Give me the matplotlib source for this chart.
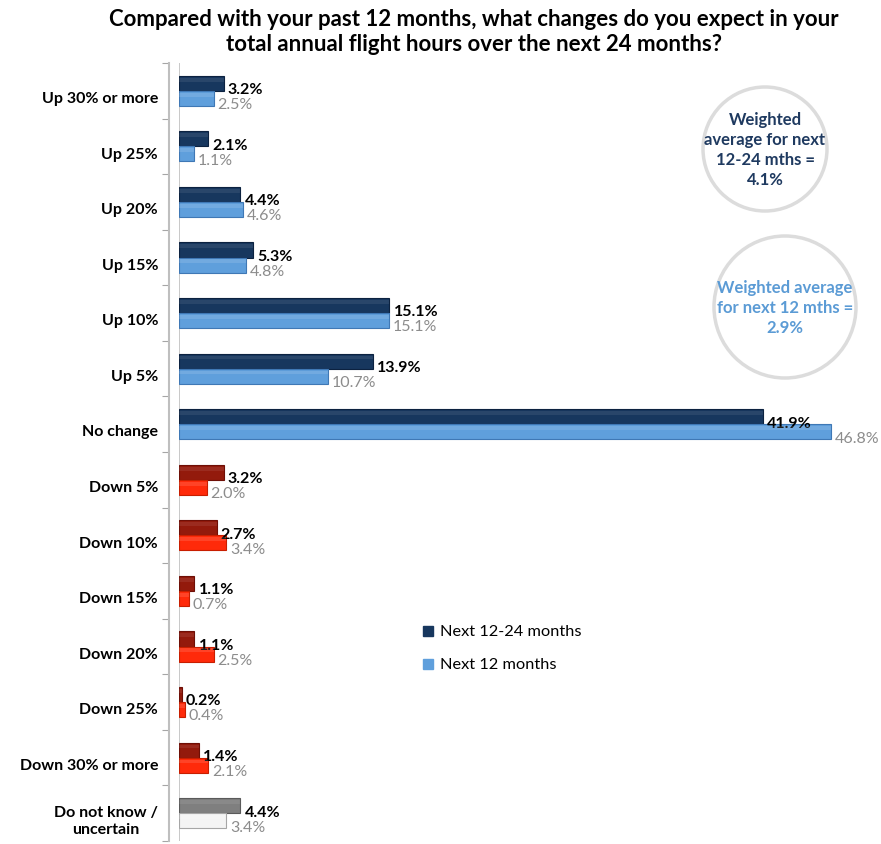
import matplotlib
matplotlib.use("Agg")
import matplotlib.pyplot as plt
from matplotlib.patches import Ellipse
import numpy as np

plt.rcParams['font.family'] = ['Lato', 'DejaVu Sans']

categories = ['Up 30% or more', 'Up 25%', 'Up 20%', 'Up 15%', 'Up 10%', 'Up 5%',
              'No change', 'Down 5%', 'Down 10%', 'Down 15%', 'Down 20%',
              'Down 25%', 'Down 30% or more', 'Do not know /\nuncertain']
next_12_24 = [3.2, 2.1, 4.4, 5.3, 15.1, 13.9, 41.9, 3.2, 2.7, 1.1, 1.1, 0.2, 1.4, 4.4]
next_12 = [2.5, 1.1, 4.6, 4.8, 15.1, 10.7, 46.8, 2.0, 3.4, 0.7, 2.5, 0.4, 2.1, 3.4]

# colours per group: up / no change use blues, down uses reds, unknown grey
dark_cols = ['#17375e'] * 7 + ['#931a0c'] * 6 + ['#7f7f7f']
light_cols = ['#5f9fdc'] * 7 + ['#ff2a0a'] * 6 + ['#f4f4f4']
light_edge = ['#3f78b5'] * 7 + ['#c81e00'] * 6 + ['#a6a6a6']
dark_edge = ['#0c2240'] * 7 + ['#6e0f06'] * 6 + ['#5a5a5a']

fig = plt.figure(figsize=(8.81, 8.45), dpi=100)
ax = fig.add_axes([179 / 881, 1 - 842 / 845, 1 - 179 / 881, (842 - 64) / 845])

y = np.arange(len(categories))
h = 0.27
ax.axvline(0, color='#bfbfbf', linewidth=1.2, zorder=1)
ax.barh(y - 0.135, next_12_24, height=h, color=dark_cols, edgecolor=dark_edge, linewidth=0.8, zorder=3)
ax.barh(y + 0.135, next_12, height=h, color=light_cols, edgecolor=light_edge, linewidth=0.8, zorder=3)
# soft highlight for the cylinder look
ax.barh(y - 0.2, next_12_24, height=0.07, color='white', alpha=0.08, linewidth=0, zorder=4)
ax.barh(y + 0.07, next_12, height=0.07, color='white', alpha=0.12, linewidth=0, zorder=4)

for i in range(len(categories)):
    ax.text(next_12_24[i] + 0.3, i - 0.03, f'{next_12_24[i]:.1f}%', fontsize=11.5,
            fontweight='bold', color='black', va='center', ha='left')
    ax.text(next_12[i] + 0.25, i + 0.24, f'{next_12[i]:.1f}%', fontsize=11.5,
            color='#8c8c8c', va='center', ha='left')
    # category names, drawn as text so the bold weight sticks
    ax.text(-21 / 702, i + 0.13, categories[i], transform=ax.get_yaxis_transform(),
            ha='right', va='center', fontsize=11.5, fontweight='bold',
            multialignment='center', linespacing=1.2)

ax.set_xlim(0, 50.4)
ax.set_ylim(len(categories) - 0.5, -0.5)
ax.set_yticks(np.arange(len(categories) + 1) - 0.5)
ax.set_yticklabels([])
ax.tick_params(axis='y', length=5, color='#a6a6a6', direction='out')
ax.set_xticks([])
for s in ['top', 'right', 'bottom']:
    ax.spines[s].set_visible(False)
ax.spines['left'].set_color('#bfbfbf')
ax.spines['left'].set_linewidth(1.5)
ax.spines['left'].set_position(('outward', 7))

fig.text(474 / 881, 1 - 32 / 845,
         'Compared with your past 12 months, what changes do you expect in your\n'
         'total annual flight hours over the next 24 months?',
         ha='center', va='center', fontsize=16, fontweight='bold', linespacing=1.2)

# weighted average circles
for cx, cy, r, txt, col in [(765, 150, 62, 'Weighted\naverage for next\n12-24 mths =\n4.1%', '#1f3a60'),
                            (785, 308, 71, 'Weighted average\nfor next 12 mths =\n2.9%', '#5b9bd5')]:
    e = Ellipse((cx / 881, 1 - cy / 845), 2 * r / 881, 2 * r / 845, transform=fig.transFigure,
                facecolor='white', edgecolor='#dcdcdc', linewidth=2.5)
    fig.add_artist(e)
    fig.text(cx / 881, 1 - cy / 845, txt, ha='center', va='center', fontsize=12,
             fontweight='bold', color=col, linespacing=1.3)

# legend
for ly, txt, col in [(632, 'Next 12-24 months', '#17375e'), (665, 'Next 12 months', '#5f9fdc')]:
    fig.patches.append(plt.Rectangle((423 / 881, 1 - (ly + 5) / 845), 10 / 881, 10 / 845,
                                     transform=fig.transFigure, color=col))
    fig.text(440 / 881, 1 - ly / 845, txt, ha='left', va='center', fontsize=11.8)

fig.savefig('out.png', dpi=100)
